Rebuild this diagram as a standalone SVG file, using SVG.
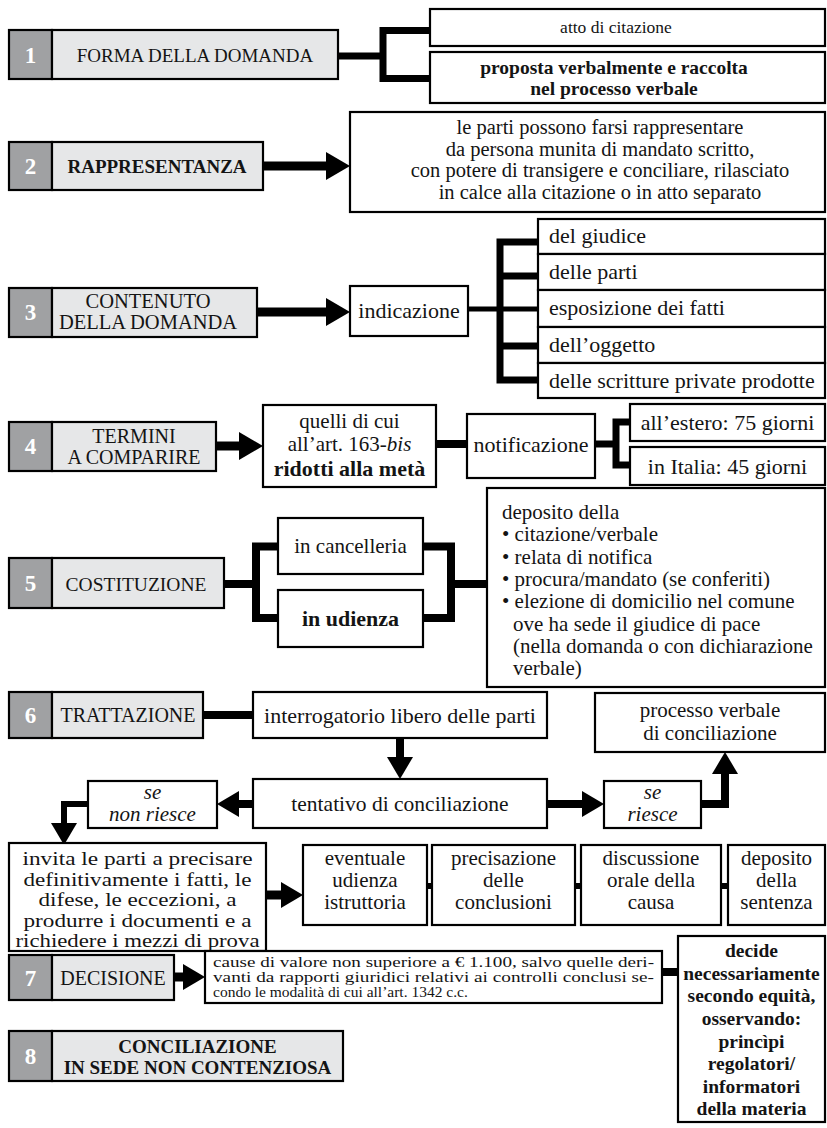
<svg xmlns="http://www.w3.org/2000/svg" width="827" height="1128" viewBox="0 0 827 1128">
<style>
.num{fill:#a0a1a3;stroke:#000;stroke-width:2.2}
.lab{fill:#e6e7e8;stroke:#000;stroke-width:2.2}
.box{fill:#fff;stroke:#000;stroke-width:2.2}
text{font-family:'Liberation Serif',serif;fill:#141414}
.n{font-size:23px;font-weight:bold;fill:#fff;text-anchor:middle}
.g{font-size:21px}
.c{font-size:22px}
.d{font-size:21px}
.s{font-size:20.5px}
.m{text-anchor:middle}
.b{font-weight:bold}
.i{font-style:italic}
.k{fill:none;stroke:#000;stroke-linejoin:miter}
</style>
<defs>
<marker id="ah" viewBox="0 0 10 10" refX="0" refY="5" markerWidth="24" markerHeight="28" markerUnits="userSpaceOnUse" orient="auto" preserveAspectRatio="none"><path d="M0,0 L10,5 L0,10z" fill="#000"/></marker>
<marker id="ah2" viewBox="0 0 10 10" refX="0" refY="5" markerWidth="22" markerHeight="26" markerUnits="userSpaceOnUse" orient="auto" preserveAspectRatio="none"><path d="M0,0 L10,5 L0,10z" fill="#000"/></marker>
</defs>

<g id="connectors">
<path class="k" stroke-width="7" d="M338,56 H383 M430,30.5 H383 V78.5 H430"/>
<line x1="263" y1="166" x2="326" y2="166" stroke="#000" stroke-width="9" marker-end="url(#ah)"/>
<line x1="257" y1="312" x2="326" y2="312" stroke="#000" stroke-width="9" marker-end="url(#ah)"/>
<path class="k" stroke-width="5" d="M468,309 H538"/>
<path class="k" stroke-width="7" d="M538,242 H500 V380 H538 M500,276 H538 M500,346 H538"/>
<line x1="216" y1="446" x2="239" y2="446" stroke="#000" stroke-width="9" marker-end="url(#ah)"/>
<path class="k" stroke-width="8" d="M436,444 H467"/>
<path class="k" stroke-width="7" d="M595,444 H616 M630,422 H616 V465 H630"/>
<path class="k" stroke-width="8" d="M224,584 H256 M278,546.5 H256 V618 H278 M423,546.5 H451 V618 H423 M451,584 H487"/>
<path class="k" stroke-width="8" d="M203,715 H253"/>
<line x1="400" y1="738" x2="400" y2="757" stroke="#000" stroke-width="8" marker-end="url(#ah2)"/>
<line x1="253" y1="804" x2="239" y2="804" stroke="#000" stroke-width="8" marker-end="url(#ah2)"/>
<polyline class="k" stroke-width="6" points="88,804 64,804 64,823" marker-end="url(#ah2)"/>
<line x1="547" y1="804" x2="582" y2="804" stroke="#000" stroke-width="8" marker-end="url(#ah2)"/>
<polyline class="k" stroke-width="8" points="701,804 725,804 725,774" marker-end="url(#ah2)"/>
<line x1="266" y1="895" x2="281" y2="895" stroke="#000" stroke-width="9" marker-end="url(#ah2)"/>
<path class="k" stroke-width="6" d="M427,886 H432 M575,886 H581 M721,886 H728"/>
<line x1="174" y1="977" x2="183" y2="977" stroke="#000" stroke-width="9" marker-end="url(#ah2)"/>
<path class="k" stroke-width="8" d="M662,972 H678"/>
</g>

<g id="n1">
<rect class="num" x="9" y="30" width="43" height="49"/>
<rect class="lab" x="52" y="30" width="286" height="49"/>
<text class="n" x="30.5" y="63">1</text>
<text class="m" font-size="19" x="195" y="62">FORMA DELLA DOMANDA</text>
</g>
<g id="n1a">
<rect class="box" x="430" y="9" width="395" height="37"/>
<text class="m" font-size="17.5" x="616" y="33">atto di citazione</text>
</g>
<g id="n1b">
<rect class="box" x="430" y="52" width="395" height="51"/>
<text class="m b" font-size="19.5" x="614" y="74">proposta verbalmente e raccolta</text>
<text class="m b" font-size="19.5" x="614" y="95">nel processo verbale</text>
</g>

<g id="n2">
<rect class="num" x="9" y="142" width="43" height="48"/>
<rect class="lab" x="52" y="142" width="211" height="48"/>
<text class="n" x="30.5" y="174">2</text>
<text class="m b" font-size="19" x="157" y="173">RAPPRESENTANZA</text>
</g>
<g id="n2a">
<rect class="box" x="350" y="112" width="475" height="100"/>
<text class="s m" x="600" y="134">le parti possono farsi rappresentare</text>
<text class="s m" x="600" y="155.5">da persona munita di mandato scritto,</text>
<text class="s m" x="600" y="177">con potere di transigere e conciliare, rilasciato</text>
<text class="s m" x="600" y="198.5">in calce alla citazione o in atto separato</text>
</g>

<g id="n3">
<rect class="num" x="9" y="288" width="43" height="49"/>
<rect class="lab" x="52" y="288" width="205" height="49"/>
<text class="n" x="30.5" y="320">3</text>
<text class="s m" x="148" y="308">CONTENUTO</text>
<text class="s m" x="148" y="329">DELLA DOMANDA</text>
</g>
<g id="n3a">
<rect class="box" x="350" y="286" width="118" height="50"/>
<text class="c m" x="409" y="318">indicazione</text>
</g>
<g id="n3b">
<rect class="box" x="538" y="219" width="287" height="35"/>
<text class="c" x="549" y="243">del giudice</text>
</g>
<g id="n3c">
<rect class="box" x="538" y="254" width="287" height="36"/>
<text class="c" x="549" y="279">delle parti</text>
</g>
<g id="n3d">
<rect class="box" x="538" y="290" width="287" height="37"/>
<text class="c" x="549" y="315">esposizione dei fatti</text>
</g>
<g id="n3e">
<rect class="box" x="538" y="327" width="287" height="36"/>
<text class="c" x="549" y="352">dell’oggetto</text>
</g>
<g id="n3f">
<rect class="box" x="538" y="363" width="287" height="35"/>
<text class="c" x="549" y="388">delle scritture private prodotte</text>
</g>

<g id="n4">
<rect class="num" x="9" y="422" width="43" height="49"/>
<rect class="lab" x="52" y="422" width="164" height="49"/>
<text class="n" x="30.5" y="454">4</text>
<text class="m" font-size="20" x="134" y="443">TERMINI</text>
<text class="m" font-size="20" x="134" y="464">A COMPARIRE</text>
</g>
<g id="n4a">
<rect class="box" x="263" y="405" width="173" height="82"/>
<text class="m" font-size="21" x="349.5" y="428">quelli di cui</text>
<text class="m" font-size="21" x="349.5" y="451">all’art. 163-<tspan class="i">bis</tspan></text>
<text class="m b" font-size="22" x="349.5" y="476">ridotti alla metà</text>
</g>
<g id="n4b">
<rect class="box" x="467" y="414" width="128" height="64"/>
<text class="c m" x="531" y="452">notificazione</text>
</g>
<g id="n4c">
<rect class="box" x="630" y="404" width="195" height="37"/>
<text class="c m" x="727.5" y="430">all’estero: 75 giorni</text>
</g>
<g id="n4d">
<rect class="box" x="630" y="447" width="195" height="38"/>
<text class="c m" x="727.5" y="474">in Italia: 45 giorni</text>
</g>

<g id="n5">
<rect class="num" x="9" y="558" width="43" height="50"/>
<rect class="lab" x="52" y="558" width="172" height="50"/>
<text class="n" x="30.5" y="591">5</text>
<text class="m" font-size="19.5" x="136" y="591">COSTITUZIONE</text>
</g>
<g id="n5a">
<rect class="box" x="278" y="518" width="145" height="56"/>
<text class="g m" x="350.5" y="553">in cancelleria</text>
</g>
<g id="n5b">
<rect class="box" x="278" y="590" width="145" height="57"/>
<text class="m b" font-size="22" x="350.5" y="626">in udienza</text>
</g>
<g id="n5c">
<rect class="box" x="487" y="488" width="338" height="199"/>
<text class="g" x="502" y="519">deposito della</text>
<text class="g" x="502" y="541">• citazione/verbale</text>
<text class="g" x="502" y="563.5">• relata di notifica</text>
<text class="g" x="502" y="586">• procura/mandato (se conferiti)</text>
<text class="g" x="502" y="608">• elezione di domicilio nel comune</text>
<text class="g" x="513" y="630.5">ove ha sede il giudice di pace</text>
<text class="g" x="513" y="653">(nella domanda o con dichiarazione</text>
<text class="g" x="513" y="675">verbale)</text>
</g>

<g id="n6">
<rect class="num" x="9" y="692" width="43" height="46"/>
<rect class="lab" x="52" y="692" width="151" height="46"/>
<text class="n" x="30.5" y="723">6</text>
<text class="m" font-size="20" x="128" y="722">TRATTAZIONE</text>
</g>
<g id="n6a">
<rect class="box" x="253" y="692" width="294" height="46"/>
<text class="c m" x="400" y="723">interrogatorio libero delle parti</text>
</g>
<g id="n6b">
<rect class="box" x="595" y="693" width="230" height="59"/>
<text class="m" font-size="21" x="710" y="717">processo verbale</text>
<text class="m" font-size="21" x="710" y="740">di conciliazione</text>
</g>
<g id="n6c">
<rect class="box" x="253" y="779" width="294" height="49"/>
<text class="m" font-size="21.5" x="400" y="811">tentativo di conciliazione</text>
</g>
<g id="n6d">
<rect class="box" x="88" y="781" width="129" height="47"/>
<text class="m i" font-size="21" x="152.5" y="799">se</text>
<text class="m i" font-size="21" x="152.5" y="821">non riesce</text>
</g>
<g id="n6e">
<rect class="box" x="604" y="781" width="97" height="47"/>
<text class="m i" font-size="21" x="652.5" y="799">se</text>
<text class="m i" font-size="21" x="652.5" y="821">riesce</text>
</g>
<g id="n6f">
<rect class="box" x="9" y="843" width="257" height="108"/>
<text class="m" font-size="19.5" x="137.5" y="865" textLength="230" lengthAdjust="spacingAndGlyphs">invita le parti a precisare</text>
<text class="m" font-size="19.5" x="137.5" y="885.6" textLength="228" lengthAdjust="spacingAndGlyphs">definitivamente i fatti, le</text>
<text class="m" font-size="19.5" x="137.5" y="906.2" textLength="198" lengthAdjust="spacingAndGlyphs">difese, le eccezioni, a</text>
<text class="m" font-size="19.5" x="137.5" y="926.8" textLength="228" lengthAdjust="spacingAndGlyphs">produrre i documenti e a</text>
<text class="m" font-size="19.5" x="137.5" y="947.4" textLength="244" lengthAdjust="spacingAndGlyphs">richiedere i mezzi di prova</text>
</g>
<g id="n6g">
<rect class="box" x="303" y="845" width="124" height="80"/>
<text class="d m" x="365" y="865">eventuale</text>
<text class="d m" x="365" y="887">udienza</text>
<text class="d m" x="365" y="909">istruttoria</text>
</g>
<g id="n6h">
<rect class="box" x="432" y="845" width="143" height="80"/>
<text class="d m" x="503.5" y="865">precisazione</text>
<text class="d m" x="503.5" y="887">delle</text>
<text class="d m" x="503.5" y="909">conclusioni</text>
</g>
<g id="n6i">
<rect class="box" x="581" y="845" width="140" height="80"/>
<text class="d m" x="651" y="865">discussione</text>
<text class="d m" x="651" y="887">orale della</text>
<text class="d m" x="651" y="909">causa</text>
</g>
<g id="n6j">
<rect class="box" x="728" y="845" width="97" height="80"/>
<text class="d m" x="776.5" y="865">deposito</text>
<text class="d m" x="776.5" y="887">della</text>
<text class="d m" x="776.5" y="909">sentenza</text>
</g>

<g id="n7">
<rect class="num" x="9" y="955" width="43" height="45"/>
<rect class="lab" x="52" y="955" width="122" height="45"/>
<text class="n" x="30.5" y="986">7</text>
<text class="m" font-size="20" x="113" y="985">DECISIONE</text>
</g>
<g id="n7a">
<rect class="box" x="205" y="951" width="457" height="52"/>
<text x="213" y="967" font-size="15.5" textLength="441" lengthAdjust="spacingAndGlyphs">cause di valore non superiore a € 1.100, salvo quelle deri-</text>
<text x="213" y="982" font-size="15.5" textLength="441" lengthAdjust="spacingAndGlyphs">vanti da rapporti giuridici relativi ai controlli conclusi se-</text>
<text x="213" y="997" font-size="15.5">condo le modalità di cui all’art. 1342 c.c.</text>
</g>
<g id="n7b">
<rect class="box" x="678" y="936" width="147" height="186"/>
<text class="m b" font-size="19.5" x="751.5" y="957">decide</text>
<text class="m b" font-size="19.5" x="751.5" y="980">necessariamente</text>
<text class="m b" font-size="19.5" x="751.5" y="1002">secondo equità,</text>
<text class="m b" font-size="19.5" x="751.5" y="1025">osservando:</text>
<text class="m b" font-size="19.5" x="751.5" y="1048">princìpi</text>
<text class="m b" font-size="19.5" x="751.5" y="1070">regolatori/</text>
<text class="m b" font-size="19.5" x="751.5" y="1093">informatori</text>
<text class="m b" font-size="19.5" x="751.5" y="1115">della materia</text>
</g>

<g id="n8">
<rect class="num" x="9" y="1031" width="43" height="50"/>
<rect class="lab" x="52" y="1031" width="291" height="50"/>
<text class="n" x="30.5" y="1064">8</text>
<text class="m b" font-size="19" x="197.5" y="1053">CONCILIAZIONE</text>
<text class="m b" font-size="19" x="197.5" y="1074">IN SEDE NON CONTENZIOSA</text>
</g>
</svg>
